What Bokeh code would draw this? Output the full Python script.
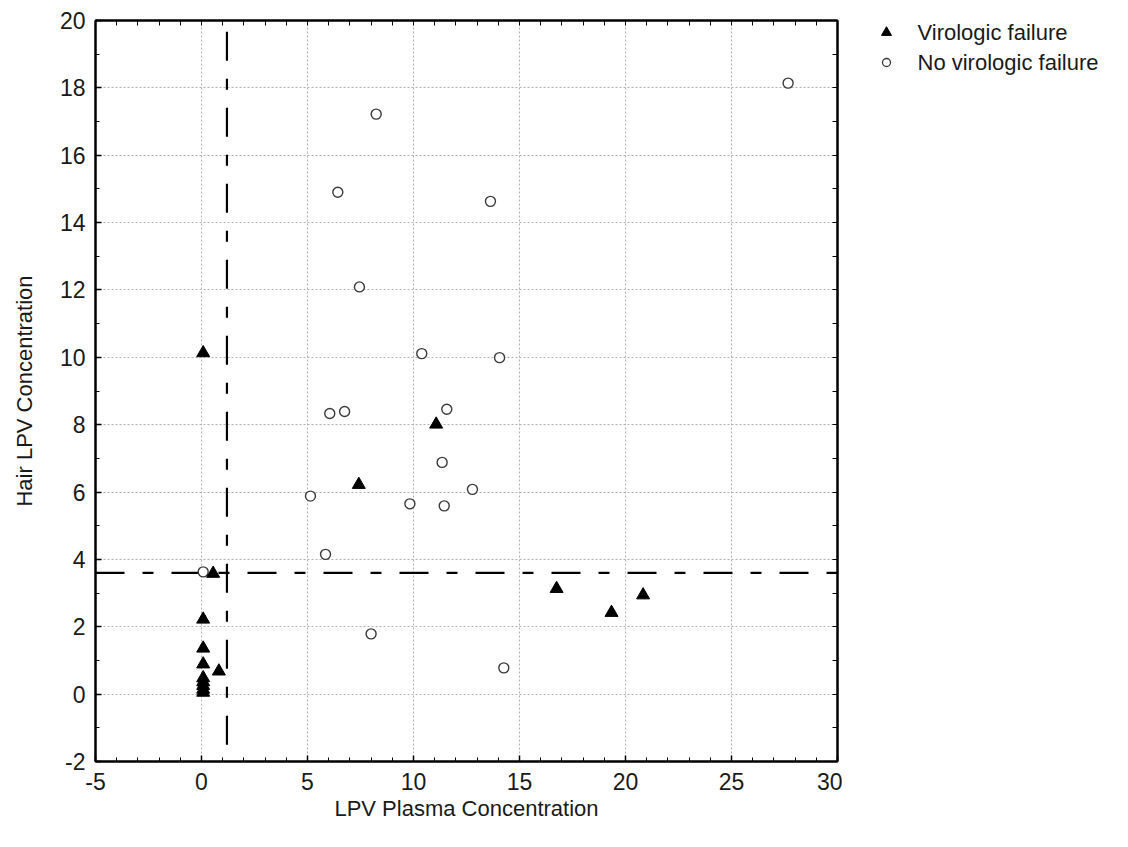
from bokeh.plotting import figure
from bokeh.layouts import row
from bokeh.core.properties import value
from bokeh.models import (Range1d, LinearAxis, SingleIntervalTicker, FixedTicker,
                          ColumnDataSource, NumeralTickFormatter)
from bokeh.embed import file_html
from bokeh.resources import INLINE

# Virologic failure (filled triangles)
fail_plasma = [0.08, 0.55, 0.08, 0.08, 0.08, 0.82, 0.08, 0.08, 0.08, 0.08, 0.08,
               7.42, 11.07, 16.75, 19.34, 20.83]
fail_hair = [10.13, 3.58, 2.22, 1.36, 0.89, 0.68, 0.48, 0.36, 0.25, 0.14, 0.05,
             6.22, 8.01, 3.13, 2.42, 2.94]

# No virologic failure (open circles)
ok_plasma = [27.67, 8.24, 6.43, 13.63, 7.45, 10.39, 14.06, 6.05, 6.75, 11.57,
             11.35, 5.14, 12.78, 9.83, 11.45, 5.85, 8.0, 14.26, 0.08]
ok_hair = [18.14, 17.22, 14.9, 14.63, 12.09, 10.11, 9.99, 8.33, 8.39, 8.46,
           6.88, 5.88, 6.08, 5.65, 5.59, 4.15, 1.79, 0.78, 3.63]

series_labels = ["Virologic failure", "No virologic failure"]

# cut-off reference lines
plasma_cutoff = 1.2
hair_cutoff = 3.6

x_limits = (-5, 30)
y_limits = (-2, 20)
x_tick_step = 5
y_tick_step = 2

FONT = "Liberation Sans"
TXT = "#1a1a1a"
MAIN_W, LEG_W, H = 842, 286, 847
TOP, BOTTOM = 20, 86          # frame borders (px)

p = figure(width=MAIN_W, height=H,
           x_range=Range1d(*x_limits), y_range=Range1d(*y_limits),
           output_backend="svg", toolbar_location=None,
           min_border_left=95, min_border_top=TOP, min_border_bottom=BOTTOM,
           min_border_right=5)
p.background_fill_color = "white"
p.border_fill_color = "white"
p.outline_line_color = "black"
p.outline_line_width = 2

xt = SingleIntervalTicker(interval=x_tick_step, num_minor_ticks=5)
yt = SingleIntervalTicker(interval=y_tick_step, num_minor_ticks=2)

p.xaxis.ticker = xt
p.yaxis.ticker = yt
p.xgrid.ticker = xt
p.ygrid.ticker = yt

for g in (p.xgrid, p.ygrid):
    g.grid_line_color = "#b0b0b0"
    g.grid_line_dash = "2 2"
    g.grid_line_width = 1

def style_axis(ax, labels=True):
    ax.axis_line_color = "black"
    ax.axis_line_width = 2
    ax.major_tick_in = 6
    ax.major_tick_out = 0
    ax.minor_tick_in = 4
    ax.minor_tick_out = 0
    ax.major_tick_line_color = "black"
    ax.minor_tick_line_color = "black"
    ax.major_tick_line_width = 1.5
    ax.minor_tick_line_width = 1
    if labels:
        ax.formatter = NumeralTickFormatter(format="0")
        ax.major_label_text_font = FONT
        ax.major_label_text_font_size = "23px"
        ax.major_label_text_color = TXT
        ax.axis_label_text_font = FONT
        ax.axis_label_text_font_size = "22px"
        ax.axis_label_text_font_style = "normal"
        ax.axis_label_text_color = TXT

style_axis(p.xaxis[0])
style_axis(p.yaxis[0])
p.xaxis.axis_label = "LPV Plasma Concentration"
p.yaxis.axis_label = "Hair LPV Concentration"
p.xaxis.major_label_standoff = 11
p.xaxis.axis_label_standoff = 3
p.yaxis.major_label_standoff = 10
p.yaxis.axis_label_standoff = 20

# unlabeled tick marks on the top and right frame edges (minor ticks only -> no labels)
top_ax = LinearAxis(ticker=FixedTicker(ticks=[], minor_ticks=list(range(x_limits[0], x_limits[1] + 1))))
right_ax = LinearAxis(ticker=FixedTicker(ticks=[], minor_ticks=list(range(y_limits[0], y_limits[1] + 1))))
style_axis(top_ax, labels=False)
style_axis(right_ax, labels=False)
top_ax.minor_tick_in = 5
right_ax.minor_tick_in = 5
p.add_layout(top_ax, "above")
p.add_layout(right_ax, "right")

# reference cut-off lines
p.segment(x0=[plasma_cutoff], y0=[-1.5], x1=[plasma_cutoff], y1=[y_limits[1]],
          line_color="black", line_width=2.2, line_dash="29 18 11 18")
p.segment(x0=[x_limits[0]], y0=[hair_cutoff], x1=[x_limits[1]], y1=[hair_cutoff],
          line_color="black", line_width=2.2, line_dash="29 18 11 18")

ok_src = ColumnDataSource(dict(x=ok_plasma, y=ok_hair))
fail_src = ColumnDataSource(dict(x=fail_plasma, y=fail_hair))

p.scatter("x", "y", source=ok_src, marker="circle", size=10, fill_color="white",
          line_color="#3a3a3a", line_width=1.4)
p.scatter("x", "y", source=fail_src, marker="triangle", size=13, fill_color="black",
          line_color="black", line_width=1)

# ---- legend panel to the right of the plot ----
# the row aligns this panel's frame with the main frame, so its y range is set
# to page pixel rows (frame top .. frame bottom)
lg = figure(width=LEG_W, height=H, output_backend="svg", toolbar_location=None,
            x_range=Range1d(0, LEG_W), y_range=Range1d(H - BOTTOM, TOP),
            min_border=0, min_border_left=0, min_border_right=0,
            min_border_top=TOP, min_border_bottom=BOTTOM)
lg.xaxis.visible = False
lg.yaxis.visible = False
lg.xgrid.visible = False
lg.ygrid.visible = False
lg.outline_line_color = None
lg.background_fill_color = "white"
lg.border_fill_color = "white"

key_x, text_x, row_y0, row_step = 44, 75, 32, 30
rows = [row_y0 + i * row_step for i in range(len(series_labels))]

lg.scatter([key_x], [rows[0]], marker="triangle", size=10, fill_color="black",
           line_color="black")
lg.scatter([key_x], [rows[1]], marker="circle", size=8, fill_color="white",
           line_color="#3a3a3a", line_width=1.3)
lg.text(x=[text_x] * len(series_labels), y=rows, text=series_labels,
        text_font=value(FONT), text_font_size="22px", text_color=TXT,
        text_baseline="middle", text_align="left")

layout = row(p, lg)
open("out.html", "w").write(file_html(layout, INLINE))
